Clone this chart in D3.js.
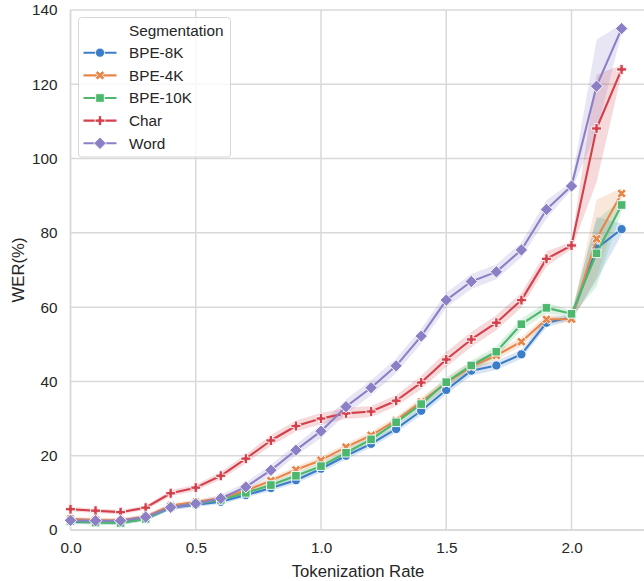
<!DOCTYPE html>
<html><head><meta charset="utf-8">
<script src="https://cdn.jsdelivr.net/npm/d3@7"></script>
<style>body{margin:0;background:#fff}svg{display:block}</style>
</head><body>
<svg id="chart" width="644" height="581"></svg>
<script>
// ---- data ----
const tokenRates = [0,0.1,0.2,0.3,0.4,0.5,0.6,0.7,0.8,0.9,1.0,1.1,1.2,1.3,1.4,1.5,1.6,1.7,1.8,1.9,2.0,2.1,2.2];
const segNames = ["BPE-8K","BPE-4K","BPE-10K","Char","Word"];
const werBPE8K  = [2.2,2.1,2.0,3.0,6.0,6.8,7.6,9.4,11.3,13.4,16.5,20.0,23.2,27.2,32.1,37.7,42.9,44.3,47.3,55.8,57.3,75.8,81.0];
const werBPE4K  = [3.0,2.7,2.6,3.6,6.6,7.5,8.6,10.6,13.3,16.2,18.8,22.3,25.5,29.5,34.5,39.6,44.0,47.0,50.7,56.7,56.8,78.4,90.6];
const werBPE10K = [2.4,2.0,1.9,3.0,6.2,7.1,8.1,10.0,12.1,14.6,17.2,20.8,24.4,29.0,33.9,39.8,44.3,48.0,55.4,59.8,58.2,74.5,87.5];
const werChar   = [5.6,5.2,4.8,6.0,9.9,11.4,14.6,19.2,24.1,28.0,30.0,31.4,31.9,34.8,39.7,45.9,51.3,55.8,61.9,73.0,76.6,108.1,124.0];
const werWord   = [2.6,2.5,2.5,3.5,6.1,7.1,8.5,11.6,16.1,21.5,26.6,33.2,38.3,44.2,52.2,61.9,66.9,69.5,75.4,86.3,92.6,119.5,135.0];
// confidence band half-widths
const ciBPE8K  = [0.6,0.6,0.6,0.6,0.6,0.6,0.6,0.7,0.8,0.9,1.0,1.0,1.0,1.0,1.2,1.2,1.3,1.2,1.2,1.2,0.8,8.5,1.5];
const ciBPE4K  = [0.6,0.6,0.6,0.6,0.6,0.6,0.6,0.7,0.8,0.9,1.0,1.0,1.0,1.0,1.2,1.2,1.3,1.2,1.2,1.2,0.8,10.5,1.5];
const ciBPE10K = [0.6,0.6,0.6,0.6,0.6,0.6,0.6,0.7,0.8,0.9,1.0,1.0,1.0,1.2,1.2,1.3,1.3,1.5,1.5,1.5,0.8,9.0,1.5];
const ciChar   = [0.6,0.6,0.6,0.6,0.8,0.8,1.0,1.2,1.5,1.5,1.5,1.5,1.5,1.5,1.8,2.0,2.0,2.0,2.0,2.0,1.0,14.5,1.2];
const ciWord   = [0.6,0.6,0.6,0.6,0.8,0.8,1.0,1.2,1.5,1.5,1.8,2.0,2.0,2.0,2.0,2.0,2.0,2.0,2.0,2.5,1.0,12.5,1.2];
const xTicks = [0,0.5,1.0,1.5,2.0];
const yTicks = [0,20,40,60,80,100,120,140];
const segColors = ["#3b7dc8","#e8864a","#4db76e","#d33f4b","#8d7fc6"];
const segMarkers = ["circle","x","square","plus","diamond"];

const seriesVals = [werBPE8K, werBPE4K, werBPE10K, werChar, werWord];
const seriesCI = [ciBPE8K, ciBPE4K, ciBPE10K, ciChar, ciWord];

// ---- layout ----
const svg = d3.select("#chart");
const plotLeft = 70.5, plotTop = 10, plotBottom = 530;
const x = d3.scaleLinear().domain([0, 2.5]).range([plotLeft, plotLeft + 2.5*250.5]);
const y = d3.scaleLinear().domain([0, 140]).range([plotBottom, plotTop]);
const textCol = "#262626";
const gridCol = "#d9d9d9";
const FONT = "'Liberation Sans', Arial, sans-serif";

// grid
const g = svg.append("g");
g.selectAll(".gy").data(yTicks).enter().append("line")
  .attr("x1", plotLeft).attr("x2", 644).attr("y1", d=>y(d)).attr("y2", d=>y(d))
  .attr("stroke", gridCol).attr("stroke-width", 1.5);
g.selectAll(".gx").data(xTicks).enter().append("line")
  .attr("x1", d=>x(d)).attr("x2", d=>x(d)).attr("y1", plotTop).attr("y2", plotBottom)
  .attr("stroke", gridCol).attr("stroke-width", 1.5);
g.append("line").attr("x1", plotLeft).attr("x2", plotLeft).attr("y1", plotTop).attr("y2", plotBottom).attr("stroke", gridCol).attr("stroke-width",1.5);
g.append("line").attr("x1", plotLeft).attr("x2", 644).attr("y1", plotBottom).attr("y2", plotBottom).attr("stroke", gridCol).attr("stroke-width",1.5);

// axes
const xAxis = d3.axisBottom(x).tickValues(xTicks).tickFormat(d3.format(".1f")).tickSize(0).tickPadding(12);
const yAxis = d3.axisLeft(y).tickValues(yTicks).tickFormat(d3.format("d")).tickSize(0).tickPadding(13);
const xa = svg.append("g").attr("transform", `translate(0,${plotBottom})`).call(xAxis);
const ya = svg.append("g").attr("transform", `translate(${plotLeft},0)`).call(yAxis);
[xa, ya].forEach(a => {
  a.select(".domain").remove();
  a.selectAll("text").attr("font-family", FONT).attr("font-size", "15.3px").attr("fill", textCol);
});
svg.append("text").attr("x", 358).attr("y", 577)
  .attr("text-anchor","middle").attr("font-family", FONT).attr("font-size","16.7px").attr("fill", textCol)
  .text("Tokenization Rate");
svg.append("text").attr("transform", `translate(24,${(plotTop+plotBottom)/2}) rotate(-90)`)
  .attr("text-anchor","middle").attr("font-family", FONT).attr("font-size","16.7px").attr("fill", textCol)
  .text("WER(%)");

// marker paths
function markerPath(type){
  const s = 9;
  if (type === "circle") return d3.symbol().type(d3.symbolCircle).size(Math.PI*4.6*4.6)();
  if (type === "square") { const h = 4.3; return `M${-h},${-h}H${h}V${h}H${-h}Z`; }
  if (type === "diamond") { const h = 6.2; return `M0,${-h}L${h},0L0,${h}L${-h},0Z`; }
  if (type === "plus") {
    const pts = [[-1,-3],[-1,-1],[-3,-1],[-3,1],[-1,1],[-1,3],[1,3],[1,1],[3,1],[3,-1],[1,-1],[1,-3]].map(p=>[p[0]/6*s*1.1,p[1]/6*s*1.1]);
    return "M" + pts.map(p=>p.join(",")).join("L") + "Z";
  }
  if (type === "x") {
    const pts = [[-1,-2],[0,-1],[1,-2],[2,-1],[1,0],[2,1],[1,2],[0,1],[-1,2],[-2,1],[-1,0],[-2,-1]].map(p=>[p[0]/4*s*1.05,p[1]/4*s*1.05]);
    return "M" + pts.map(p=>p.join(",")).join("L") + "Z";
  }
}

const plot = svg.append("g");
segNames.forEach((name, i) => {
  const rows = tokenRates.map((t, j) => ({t, v: seriesVals[i][j], e: seriesCI[i][j]}));
  plot.append("path").datum(rows)
    .attr("d", d3.area().x(d=>x(d.t)).y0(d=>y(d.v - d.e)).y1(d=>y(d.v + d.e)))
    .attr("fill", segColors[i]).attr("fill-opacity", 0.2).attr("stroke","none");
});
segNames.forEach((name, i) => {
  const rows = tokenRates.map((t, j) => ({t, v: seriesVals[i][j]}));
  plot.append("path").datum(rows)
    .attr("d", d3.line().x(d=>x(d.t)).y(d=>y(d.v)))
    .attr("fill","none").attr("stroke", segColors[i]).attr("stroke-width", 2.1)
    .attr("stroke-linejoin","round").attr("stroke-linecap","round");
  plot.selectAll(null).data(rows).enter().append("path")
    .attr("transform", d=>`translate(${x(d.t)},${y(d.v)})`)
    .attr("d", markerPath(segMarkers[i]))
    .attr("fill", segColors[i]).attr("stroke","#fff").attr("stroke-width", 0.9);
});

// legend
const lg = svg.append("g");
lg.append("rect").attr("x", 78.5).attr("y", 17.5).attr("width", 152).attr("height", 139.5)
  .attr("rx", 3).attr("fill", "#fff").attr("fill-opacity", 0.8).attr("stroke", "#d6d6d6").attr("stroke-width", 1);
lg.append("text").attr("x", 129).attr("y", 35.5).attr("font-family", FONT).attr("font-size","15.3px").attr("fill", textCol).text("Segmentation");
segNames.forEach((name, i) => {
  const cy = 52.7 + i*22.65;
  lg.append("line").attr("x1", 83.5).attr("x2", 116.5).attr("y1", cy).attr("y2", cy)
    .attr("stroke", segColors[i]).attr("stroke-width", 2.1);
  lg.append("path").attr("transform", `translate(100,${cy})`).attr("d", markerPath(segMarkers[i]))
    .attr("fill", segColors[i]).attr("stroke", "#fff").attr("stroke-width", 0.9);
  lg.append("text").attr("x", 129).attr("y", cy + 5.4).attr("font-family", FONT).attr("font-size","15.3px").attr("fill", textCol).text(name);
});
</script>
</body></html>
